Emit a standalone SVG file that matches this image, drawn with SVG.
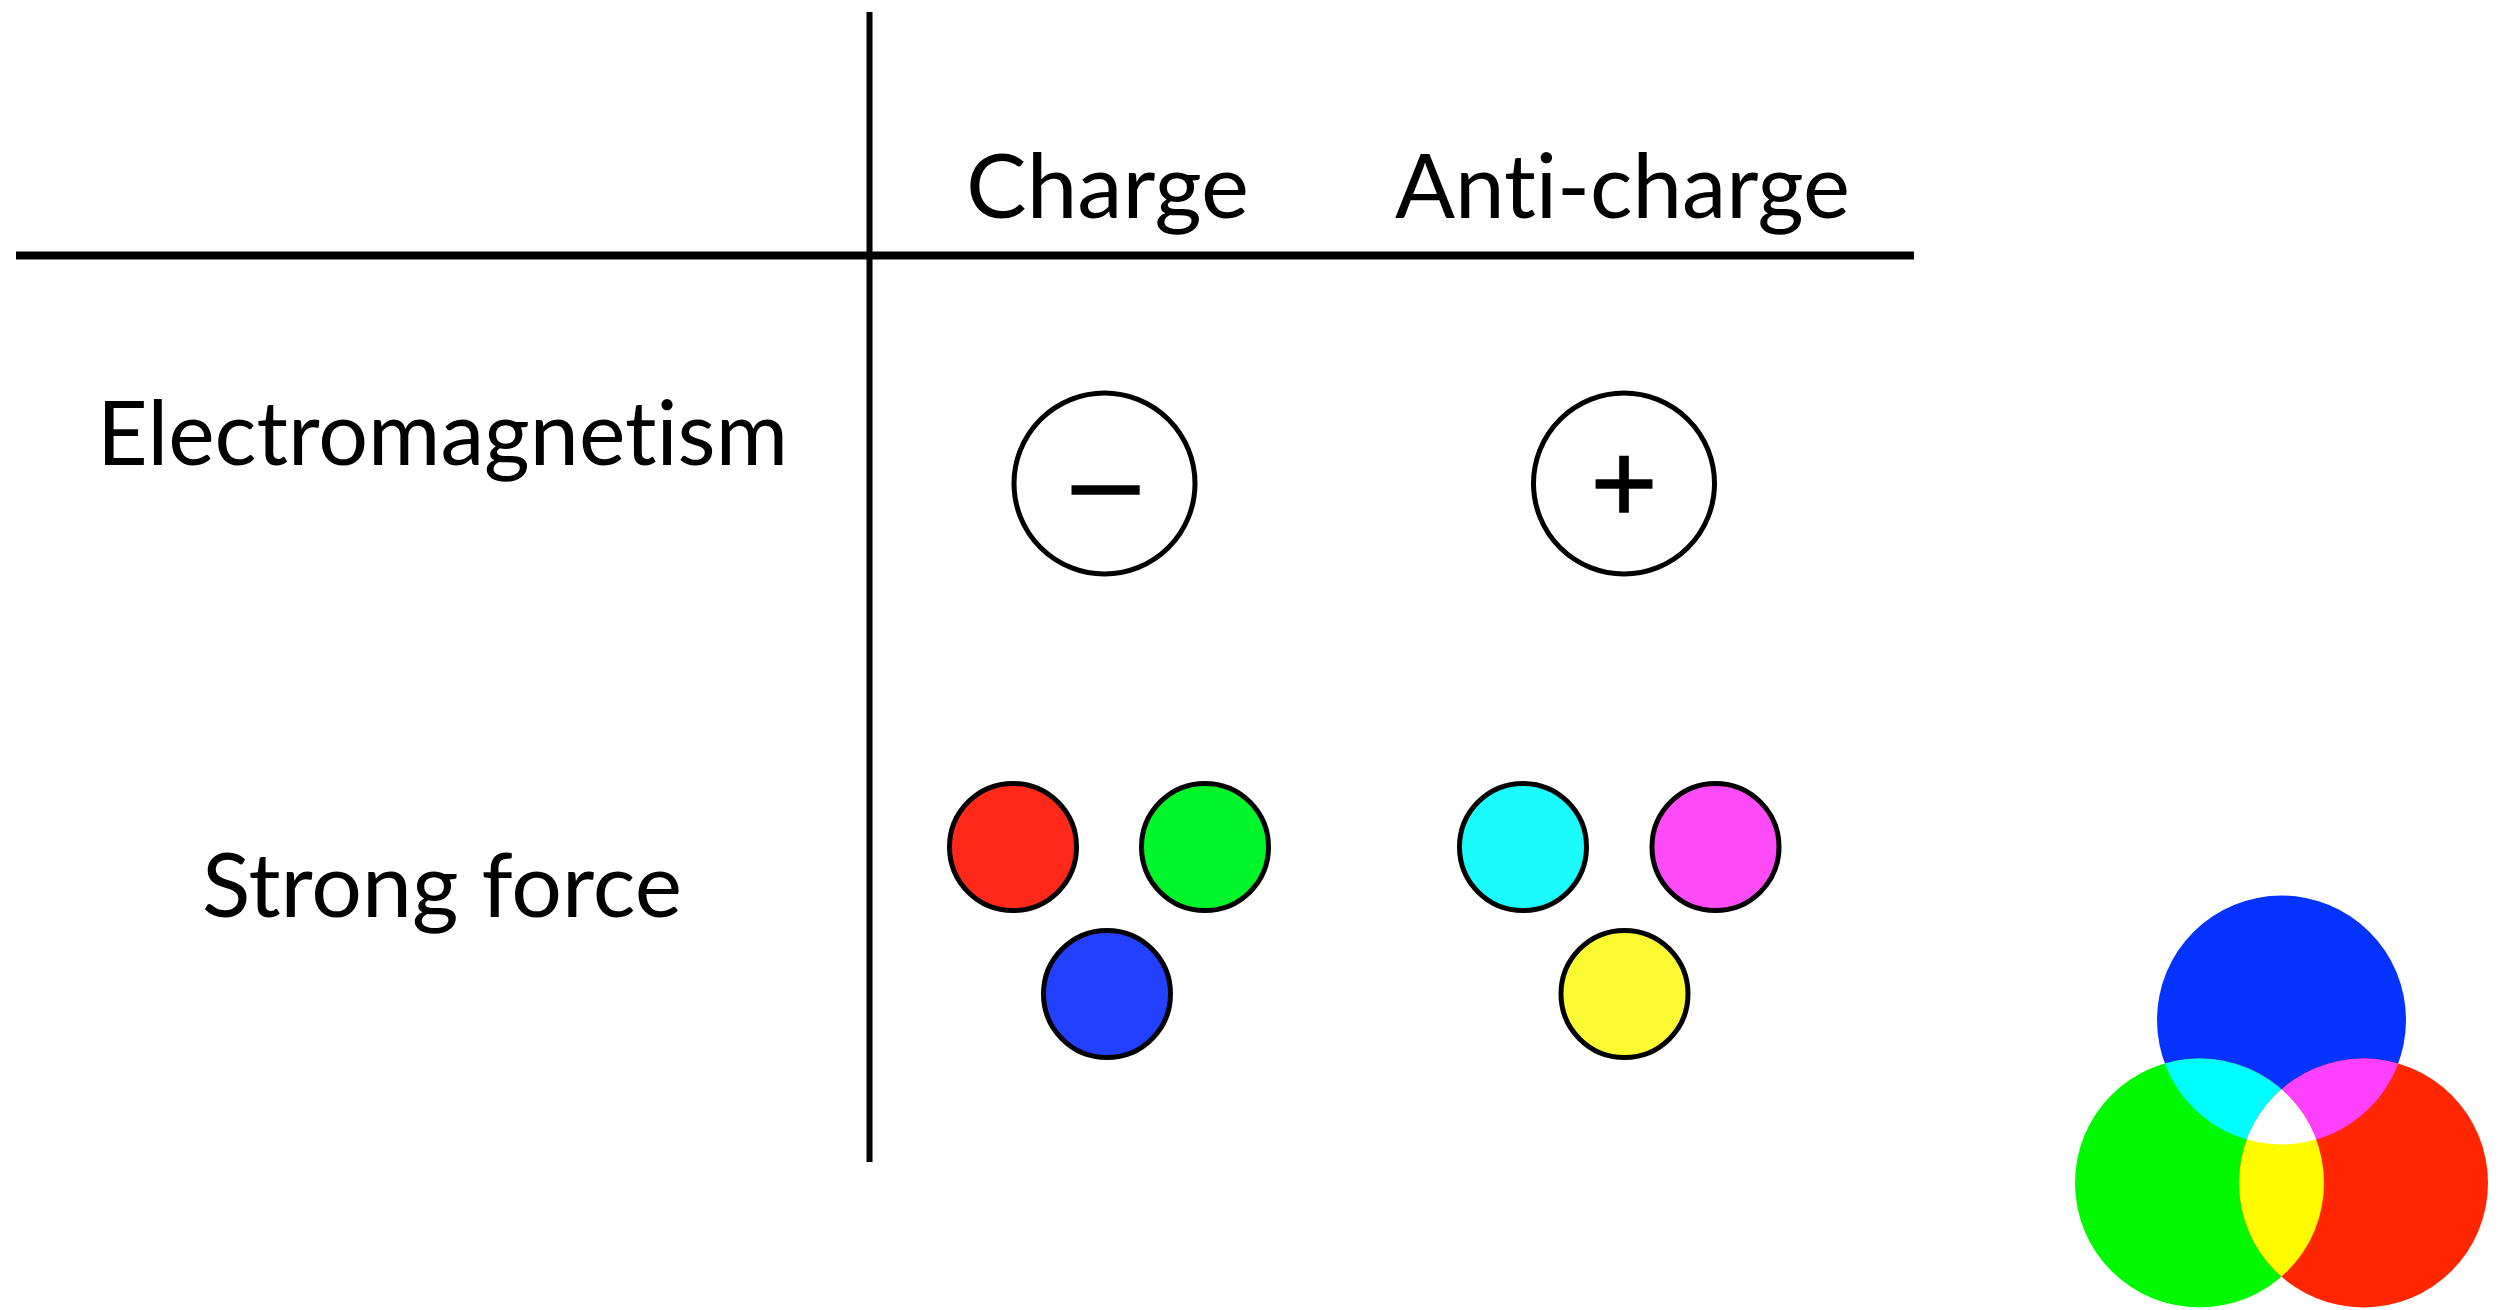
<svg xmlns="http://www.w3.org/2000/svg" width="2501" height="1310" viewBox="0 0 2501 1310">
  <style>
    .label { font-family: Lato, "Open Sans", "Liberation Sans", sans-serif; font-size: 90px; fill: #000; font-variant-ligatures: none; font-feature-settings: "liga" 0; }
    .sym { font-family: "Liberation Sans", Arial, sans-serif; fill: #000; stroke: #000; stroke-width: 1.5; text-anchor: middle; }
    .rule { stroke: #000; fill: none; }
    .charge { fill: #fff; stroke: #000; stroke-width: 5; }
    .quark { stroke: #000; stroke-width: 5; }
  </style>
  <defs>
    <clipPath id="clip-blue"><circle cx="2281.5" cy="1020" r="124.5"/></clipPath>
    <clipPath id="clip-green"><circle cx="2199.5" cy="1183" r="124.5"/></clipPath>
  </defs>

  <rect width="2501" height="1310" fill="#fff"/>

  <!-- table rules -->
  <g id="grid">
    <line class="rule" x1="16" y1="255.5" x2="1914" y2="255.5" stroke-width="8"/>
    <line class="rule" x1="869.5" y1="12" x2="869.5" y2="1162" stroke-width="6"/>
  </g>

  <!-- column headers -->
  <g id="header-charge">
    <text class="label" x="966" y="218" textLength="283" lengthAdjust="spacingAndGlyphs">Charge</text>
  </g>
  <g id="header-anticharge">
    <text class="label" x="1395" y="218" textLength="455" lengthAdjust="spacingAndGlyphs">Anti-charge</text>
  </g>

  <!-- row headers -->
  <g id="row-em">
    <text class="label" x="97" y="465" textLength="691" lengthAdjust="spacingAndGlyphs">Electromagnetism</text>
  </g>
  <g id="row-strong">
    <text class="label" x="202" y="917" textLength="480" lengthAdjust="spacingAndGlyphs">Strong force</text>
  </g>

  <!-- electromagnetic charges -->
  <g id="em-negative">
    <circle class="charge" cx="1104.5" cy="483.5" r="90.5"/>
    <text class="sym" x="1105.5" y="521" font-size="120">–</text>
  </g>
  <g id="em-positive">
    <circle class="charge" cx="1624" cy="483.5" r="90.5"/>
    <text class="sym" x="1624" y="522" font-size="114">+</text>
  </g>

  <!-- colour charges -->
  <g id="quark-red"><circle class="quark" cx="1013" cy="847" r="63.5" fill="#ff2819"/></g>
  <g id="quark-green"><circle class="quark" cx="1205" cy="847" r="63.5" fill="#00f62a"/></g>
  <g id="quark-blue"><circle class="quark" cx="1107" cy="994" r="63.5" fill="#2340ff"/></g>

  <!-- anti-colour charges -->
  <g id="antiquark-cyan"><circle class="quark" cx="1523" cy="847" r="63.5" fill="#1cfbfb"/></g>
  <g id="antiquark-magenta"><circle class="quark" cx="1715.5" cy="847" r="63.5" fill="#ff4af8"/></g>
  <g id="antiquark-yellow"><circle class="quark" cx="1624.5" cy="994" r="63.5" fill="#fcf932"/></g>

  <!-- additive colour wheel -->
  <g id="colour-wheel">
    <circle cx="2281.5" cy="1020" r="124.5" fill="#0433ff"/>
    <circle cx="2199.5" cy="1183" r="124.5" fill="#00f900"/>
    <circle cx="2363.5" cy="1183" r="124.5" fill="#ff2600"/>
    <circle cx="2199.5" cy="1183" r="124.5" fill="#00fdff" clip-path="url(#clip-blue)"/>
    <circle cx="2363.5" cy="1183" r="124.5" fill="#ff40ff" clip-path="url(#clip-blue)"/>
    <circle cx="2363.5" cy="1183" r="124.5" fill="#fffb00" clip-path="url(#clip-green)"/>
    <g clip-path="url(#clip-blue)">
      <circle cx="2363.5" cy="1183" r="124.5" fill="#ffffff" clip-path="url(#clip-green)"/>
    </g>
  </g>
</svg>
